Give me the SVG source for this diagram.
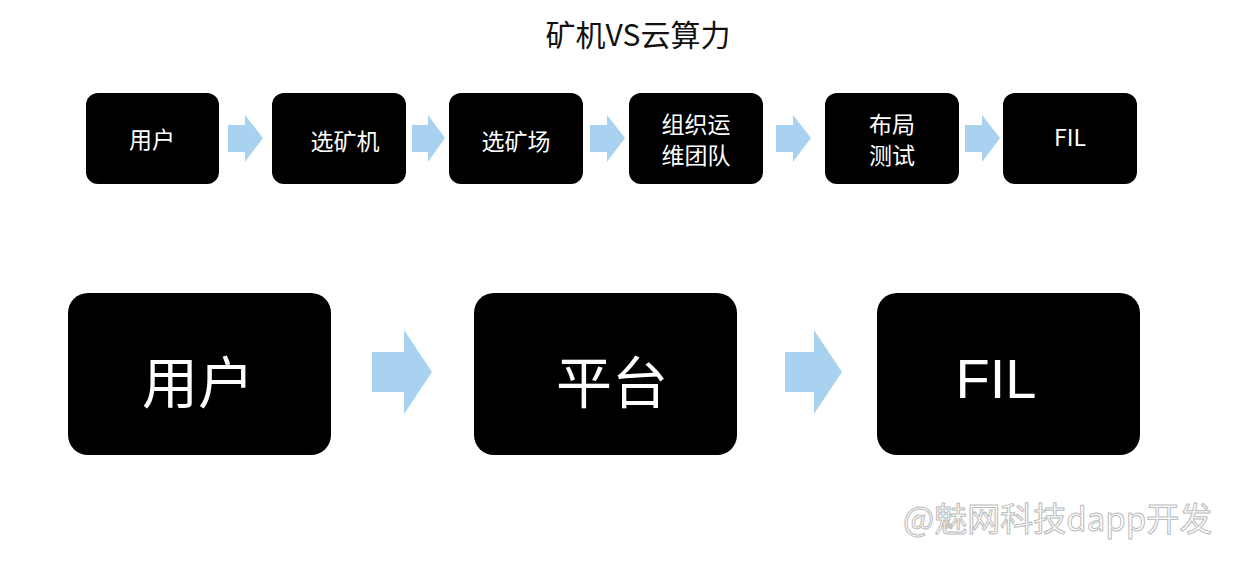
<svg xmlns="http://www.w3.org/2000/svg" width="1242" height="563" viewBox="0 0 1242 563">
<style>
.b{fill:#000}
.t{fill:#fff;font-family:"Noto Sans CJK SC",sans-serif;text-anchor:middle}
.s{font-size:23px}
.l{font-size:56px}
.a{fill:#a9d2f0}
</style>
<rect width="1242" height="563" fill="#fff"/>
<text x="638" y="46" font-family="Noto Sans CJK SC,sans-serif" font-size="30" text-anchor="middle" fill="#111">矿机VS云算力</text>
<g id="n1"><rect class="b" x="86" y="93" width="133" height="91" rx="12"/><text class="t s" x="152" y="148">用户</text></g>
<g id="n2"><rect class="b" x="272" y="93" width="134" height="91" rx="12"/><text class="t s" x="345" y="150">选矿机</text></g>
<g id="n3"><rect class="b" x="449" y="93" width="134" height="91" rx="12"/><text class="t s" x="516" y="150">选矿场</text></g>
<g id="n4"><rect class="b" x="629" y="93" width="134" height="91" rx="12"/><text class="t s" x="696" y="133">组织运</text><text class="t s" x="696" y="164">维团队</text></g>
<g id="n5"><rect class="b" x="825" y="93" width="134" height="91" rx="12"/><text class="t s" x="892" y="133">布局</text><text class="t s" x="892" y="164">测试</text></g>
<g id="n6"><rect class="b" x="1003" y="93" width="134" height="91" rx="12"/><text class="t s" x="1070" y="146" font-family="Liberation Sans,sans-serif">FIL</text></g>
<g id="m1"><rect class="b" x="68" y="293" width="263" height="162" rx="20"/><text class="t l" x="198" y="403">用户</text></g>
<g id="m2"><rect class="b" x="474" y="293" width="263" height="162" rx="20"/><text class="t l" x="612" y="403">平台</text></g>
<g id="m3"><rect class="b" x="877" y="293" width="263" height="162" rx="20"/><text class="t l" x="996" y="398" style="font-family:'Liberation Sans',sans-serif">FIL</text></g>
<g id="connectors">
<polygon class="a" points="228,125 245,125 245,115 263,138 245,162 245,152 228,152"/>
<polygon class="a" points="412,125 428,125 428,115 445,138 428,162 428,152 412,152"/>
<polygon class="a" points="590,125 607,125 607,115 625,138 607,162 607,152 590,152"/>
<polygon class="a" points="776,125 793,125 793,115 811,138 793,162 793,152 776,152"/>
<polygon class="a" points="965,125 982,125 982,115 1000,138 982,162 982,152 965,152"/>
<polygon class="a" points="372,352 404,352 404,330 432,372 404,414 404,392 372,392"/>
<polygon class="a" points="785,352 814,352 814,330 842,372 814,414 814,392 785,392"/>
</g>
<text x="903" y="531" font-family="Noto Sans CJK SC,sans-serif" font-size="33" fill="#fff" stroke="#bbb" stroke-width="1">@魅网科技dapp开发</text>
</svg>
